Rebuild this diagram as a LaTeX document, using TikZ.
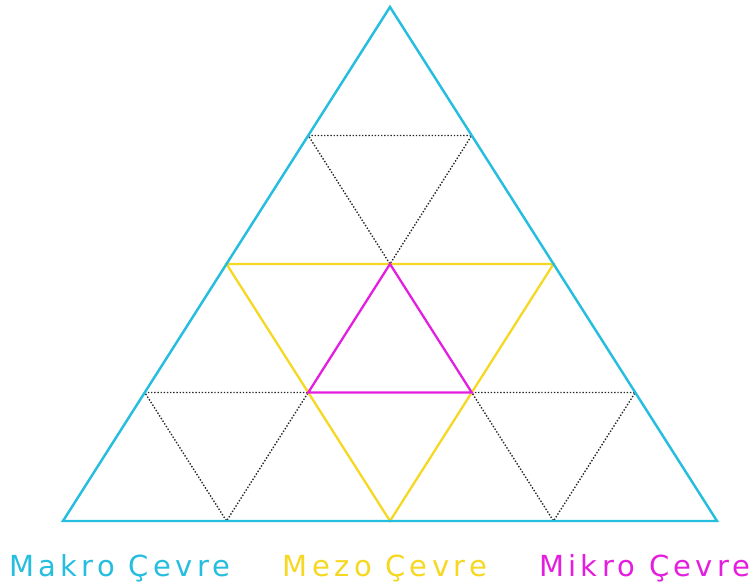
\documentclass[tikz,border=0pt]{standalone}
\usepackage{fontspec}
\setsansfont{DejaVu Sans}[LetterSpace=15]
\usepackage{tikz}
\usetikzlibrary{calc}
\definecolor{makro}{RGB}{38,190,222}
\definecolor{mezo}{RGB}{246,216,34}
\definecolor{mikro}{RGB}{228,30,222}
\definecolor{grid}{RGB}{40,40,40}

\begin{document}
\begin{tikzpicture}[
  outer/.style={draw=makro, line width=1.4pt, line join=miter},
  middle/.style={draw=mezo, line width=1.3pt},
  inner/.style={draw=mikro, line width=1.3pt},
  helper/.style={draw=grid, line width=0.8pt, dash pattern=on 0.8pt off 1pt},
  label/.style={font=\sffamily\fontsize{16.5}{18}\selectfont, anchor=base},
]
  \useasboundingbox (0,0) rectangle (15.06,11.76);

  \coordinate (A) at (7.80,11.62);
  \coordinate (B) at (1.26,1.34);
  \coordinate (C) at (14.34,1.34);

  \coordinate (ab1) at ($(A)!0.25!(B)$);
  \coordinate (ab2) at ($(A)!0.5!(B)$);
  \coordinate (ab3) at ($(A)!0.75!(B)$);
  \coordinate (ac1) at ($(A)!0.25!(C)$);
  \coordinate (ac2) at ($(A)!0.5!(C)$);
  \coordinate (ac3) at ($(A)!0.75!(C)$);
  \coordinate (bc1) at ($(B)!0.25!(C)$);
  \coordinate (bc2) at ($(B)!0.5!(C)$);
  \coordinate (bc3) at ($(B)!0.75!(C)$);
  \coordinate (top) at ($(ab2)!0.5!(ac2)$);
  \coordinate (ml) at ($(ab2)!0.5!(bc2)$);
  \coordinate (mr) at ($(ac2)!0.5!(bc2)$);

  \draw[helper] (ab1) -- (ac1) -- (top) -- cycle;
  \draw[helper] (ab3) -- (ml) -- (bc1) -- cycle;
  \draw[helper] (mr) -- (ac3) -- (bc3) -- cycle;

  \draw[middle] (ab2) -- (ac2) -- (bc2) -- cycle;
  \draw[inner] (top) -- (mr) -- (ml) -- cycle;
  \draw[outer] (A) -- (B) -- (C) -- cycle;

  \node[label, text=makro] (makro) at (2.40,0.22) {Makro Çevre};
  \node[label, text=mezo] (mezo) at (7.70,0.22) {Mezo Çevre};
  \node[label, text=mikro] (mikro) at (12.90,0.22) {Mikro Çevre};
\end{tikzpicture}
\end{document}
